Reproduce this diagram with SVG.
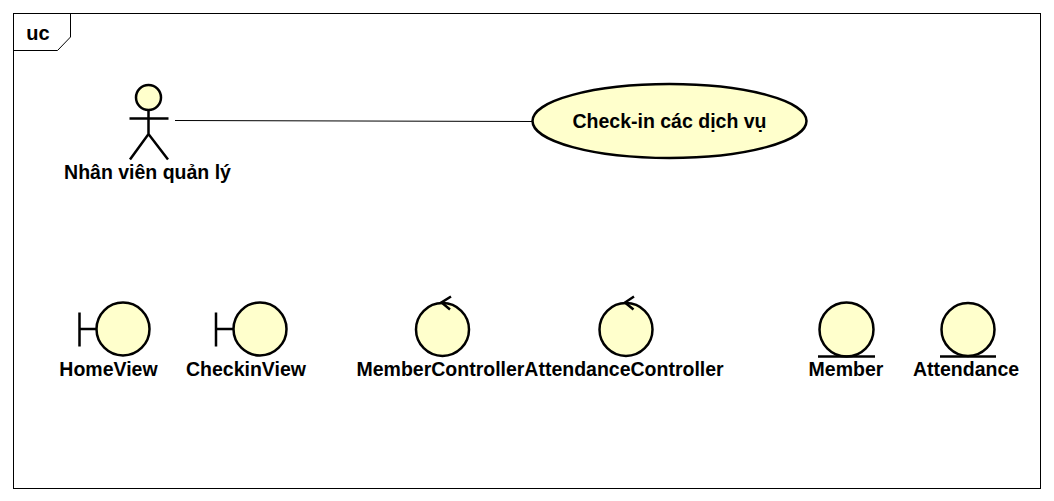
<svg xmlns="http://www.w3.org/2000/svg" width="1054" height="501" viewBox="0 0 1054 501">
<style>
text{font-family:"Liberation Sans",Arial,sans-serif;font-weight:bold;font-size:19.5px;fill:#000;text-anchor:middle}
.s{fill:#ffffcc;stroke:#000;stroke-width:2.5}
.l{fill:none;stroke:#000;stroke-width:2.5}
.f{fill:none;stroke:#000;stroke-width:1}
</style>
<rect width="1054" height="501" fill="#fff"/>
<g id="frame">
<rect class="f" x="13.5" y="13.5" width="1027" height="475"/>
<path class="f" d="M13.5 50.5H57.5L70.5 37V13.5"/>
<text x="38" y="40" style="font-size:20px">uc</text>
</g>
<g id="connectors">
<path d="M175 120.500L532 121.500" fill="none" stroke="#000" stroke-width="1"/>
</g>
<g id="actor">
<circle class="s" cx="148.500" cy="97.500" r="12.500"/>
<path class="l" d="M148.500 110V134M129.500 118.500H168.500M130 159.500L148.500 134L168 159.500"/>
<text x="147.500" y="179">Nhân viên quản lý</text>
</g>
<g id="usecase">
<ellipse class="s" cx="669.500" cy="121" rx="137" ry="37"/>
<text x="669.500" y="128">Check-in các dịch vụ</text>
</g>
<g id="HomeView">
<circle class="s" cx="123" cy="329" r="26.500"/>
<path class="l" d="M79.500 312.500V346.500M79.500 329H96"/>
<text x="108.500" y="375.500">HomeView</text>
</g>
<g id="CheckinView">
<circle class="s" cx="260" cy="329" r="26.500"/>
<path class="l" d="M216 312.500V346.500M216 329H233"/>
<text x="246" y="375.500">CheckinView</text>
</g>
<g id="MemberController">
<circle class="s" cx="442.500" cy="329.500" r="26.500"/>
<path class="l" d="M451 296.500L441.500 302.500L450 309.500"/>
<text x="440.500" y="375.500">MemberController</text>
</g>
<g id="AttendanceController">
<circle class="s" cx="626" cy="329.500" r="26.500"/>
<path class="l" d="M634 296.500L625 302.500L633.500 309.500"/>
<text x="624" y="375.500">AttendanceController</text>
</g>
<g id="Member">
<circle class="s" cx="846.500" cy="329.500" r="27"/>
<path class="l" d="M818 356.500H875"/>
<text x="846" y="375.500">Member</text>
</g>
<g id="Attendance">
<circle class="s" cx="968" cy="329.500" r="26.500"/>
<path class="l" d="M940 356.500H996"/>
<text x="966" y="375.500">Attendance</text>
</g>
</svg>
